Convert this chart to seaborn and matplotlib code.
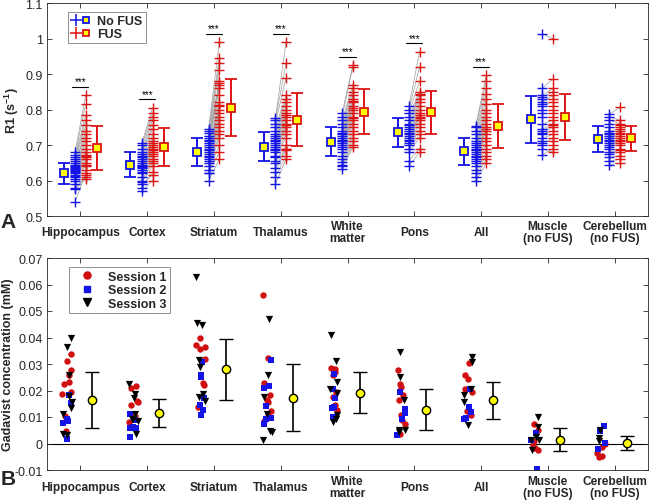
import numpy as np
import pandas as pd
import seaborn as sns
import matplotlib.pyplot as plt
from matplotlib.lines import Line2D
from matplotlib.legend_handler import HandlerTuple

sns.set_style('ticks')
plt.rcParams['font.family'] = ['Liberation Sans', 'DejaVu Sans']
plt.rcParams['mathtext.fontset'] = 'custom'
plt.rcParams['mathtext.rm'] = 'Liberation Sans'
plt.rcParams['mathtext.bf'] = 'Liberation Sans:bold'

BLUE = '#1414e6'
RED = '#dc1414'
DARK = '#262626'

regions = ['Hippocampus', 'Cortex', 'Striatum', 'Thalamus', 'White\nmatter',
           'Pons', 'All', 'Muscle\n(no FUS)', 'Cerebellum\n(no FUS)']

# ---- Panel A: R1 per animal (paired No FUS / FUS) ----
hip_nofus = [0.54, 0.575, 0.578, 0.59, 0.60, 0.605, 0.61, 0.612, 0.615, 0.62, 0.625, 0.628,
             0.63, 0.632, 0.635, 0.638, 0.64, 0.645, 0.65, 0.655, 0.66, 0.665, 0.672, 0.68]
hip_fus = [0.62, 0.605, 0.61, 0.615, 0.63, 0.64, 0.645, 0.665, 0.65, 0.66, 0.67, 0.672,
           0.68, 0.69, 0.70, 0.71, 0.72, 0.74, 0.73, 0.755, 0.77, 0.785, 0.815, 0.84]
ctx_nofus = [0.57, 0.58, 0.59, 0.595, 0.60, 0.61, 0.62, 0.625, 0.63, 0.635, 0.638, 0.64,
             0.642, 0.645, 0.65, 0.655, 0.66, 0.665, 0.67, 0.675, 0.68, 0.69, 0.70, 0.705]
ctx_fus = [0.60, 0.625, 0.615, 0.64, 0.65, 0.655, 0.66, 0.668, 0.675, 0.68, 0.685, 0.69,
           0.695, 0.70, 0.705, 0.72, 0.71, 0.73, 0.745, 0.755, 0.77, 0.78, 0.79, 0.805]
str_nofus = [0.60, 0.62, 0.622, 0.63, 0.64, 0.65, 0.655, 0.66, 0.665, 0.67, 0.675, 0.68,
             0.685, 0.69, 0.695, 0.70, 0.705, 0.71, 0.715, 0.72, 0.725, 0.735, 0.74, 0.745]
str_fus = [0.66, 0.68, 0.70, 0.72, 0.73, 0.74, 0.75, 0.76, 0.77, 0.78, 0.79, 0.80,
           0.81, 0.812, 0.82, 0.84, 0.86, 0.87, 0.875, 0.88, 0.91, 0.93, 0.945, 0.99]
tha_nofus = [0.59, 0.61, 0.625, 0.635, 0.65, 0.655, 0.665, 0.67, 0.68, 0.685, 0.69, 0.695,
             0.70, 0.705, 0.71, 0.715, 0.72, 0.725, 0.73, 0.74, 0.75, 0.76, 0.77, 0.775]
tha_fus = [0.66, 0.67, 0.685, 0.69, 0.69, 0.70, 0.72, 0.73, 0.74, 0.75, 0.755, 0.76,
           0.77, 0.78, 0.785, 0.79, 0.80, 0.81, 0.82, 0.83, 0.84, 0.89, 0.93, 0.99]
wm_nofus = [0.632, 0.64, 0.645, 0.652, 0.66, 0.67, 0.68, 0.69, 0.695, 0.70, 0.705, 0.71,
            0.712, 0.715, 0.72, 0.725, 0.73, 0.735, 0.74, 0.75, 0.76, 0.77, 0.78, 0.79]
wm_fus = [0.694, 0.70, 0.71, 0.72, 0.73, 0.74, 0.75, 0.76, 0.77, 0.775, 0.78, 0.79,
          0.80, 0.805, 0.81, 0.82, 0.825, 0.83, 0.84, 0.85, 0.86, 0.87, 0.92, 0.925]
pons_nofus = [0.64, 0.655, 0.68, 0.69, 0.70, 0.705, 0.71, 0.715, 0.72, 0.725, 0.73,
              0.735, 0.74, 0.745, 0.75, 0.755, 0.76, 0.77, 0.78, 0.79, 0.80, 0.81]
pons_fus = [0.68, 0.69, 0.72, 0.73, 0.74, 0.75, 0.76, 0.77, 0.775, 0.78, 0.785,
            0.79, 0.80, 0.81, 0.82, 0.83, 0.84, 0.845, 0.85, 0.88, 0.92, 0.963]
all_nofus = [0.598, 0.61, 0.62, 0.63, 0.64, 0.65, 0.655, 0.66, 0.665, 0.67, 0.675, 0.68,
             0.685, 0.69, 0.695, 0.70, 0.705, 0.71, 0.72, 0.73, 0.74, 0.75, 0.754]
all_fus = [0.649, 0.66, 0.67, 0.68, 0.69, 0.70, 0.71, 0.72, 0.73, 0.74, 0.745, 0.75,
           0.76, 0.77, 0.78, 0.79, 0.80, 0.815, 0.83, 0.845, 0.86, 0.88, 0.897]
mus_nofus = [0.673, 0.69, 0.70, 0.705, 0.71, 0.72, 0.73, 0.735, 0.74, 0.745, 0.76,
             0.78, 0.79, 0.80, 0.81, 0.815, 0.82, 0.83, 0.835, 0.84, 0.86, 1.013]
mus_fus = [0.69, 0.679, 0.70, 0.72, 0.71, 0.73, 0.74, 0.75, 0.755, 0.76, 0.77,
           0.78, 0.79, 0.80, 0.81, 0.82, 0.84, 0.83, 0.85, 0.86, 0.886, 0.999]
cer_nofus = [0.645, 0.655, 0.665, 0.675, 0.68, 0.69, 0.695, 0.70, 0.705, 0.71, 0.715,
             0.72, 0.725, 0.73, 0.735, 0.74, 0.75, 0.76, 0.77, 0.78, 0.787]
cer_fus = [0.649, 0.66, 0.67, 0.68, 0.685, 0.69, 0.70, 0.705, 0.71, 0.715, 0.72,
           0.725, 0.73, 0.735, 0.74, 0.745, 0.75, 0.755, 0.76, 0.77, 0.806]

r1_mean_nofus = [0.620, 0.645, 0.681, 0.695, 0.709, 0.736, 0.682, 0.773, 0.717]
r1_sd_nofus = [0.030, 0.034, 0.039, 0.041, 0.041, 0.041, 0.037, 0.066, 0.036]
r1_mean_fus = [0.692, 0.694, 0.805, 0.771, 0.794, 0.792, 0.753, 0.779, 0.719]
r1_sd_fus = [0.062, 0.054, 0.080, 0.075, 0.064, 0.060, 0.062, 0.064, 0.035]
sig_groups = [0, 1, 2, 3, 4, 5, 6]

# ---- Panel B: Gadavist concentration (mM) by session ----
hip_s1 = [0.0338, 0.0312, 0.0276, 0.0258, 0.0232, 0.0224, 0.0195, 0.0188, 0.0103, 0.0046]
hip_s2 = [0.0182, 0.0151, 0.0094, 0.0084, 0.0079, 0.0016]
hip_s3 = [0.0398, 0.0363, 0.0260, 0.0178, 0.0157, 0.0134, 0.0113, 0.0034, 0.0031]
ctx_s1 = [0.0217, 0.0210, 0.0160, 0.0155, 0.0145, 0.0103, 0.0082]
ctx_s2 = [0.0113, 0.0088, 0.0063, 0.0060, 0.0057, 0.0024]
ctx_s3 = [0.0224, 0.0185, 0.0170, 0.0113, 0.0094, 0.0092, 0.0084, 0.0036]
str_s1 = [0.0400, 0.0370, 0.0363, 0.0358, 0.0317, 0.0229, 0.0220, 0.0137]
str_s2 = [0.0308, 0.0260, 0.0251, 0.0170, 0.0147, 0.0126, 0.0107]
str_s3 = [0.0628, 0.0456, 0.0449, 0.0314, 0.0289, 0.0188, 0.0176, 0.0160]
tha_s1 = [0.0562, 0.0324, 0.0230, 0.0182, 0.0163, 0.0155, 0.0122, 0.0111, 0.0085]
tha_s2 = [0.0314, 0.0216, 0.0210, 0.0142, 0.0098, 0.0092, 0.0073]
tha_s3 = [0.0471, 0.0260, 0.0176, 0.0113, 0.0046, 0.0044, 0.0015]
wm_s1 = [0.0285, 0.0280, 0.0276, 0.0268, 0.0258, 0.0195, 0.0176, 0.0144, 0.0126]
wm_s2 = [0.0264, 0.0207, 0.0170, 0.0138, 0.0134, 0.0100]
wm_s3 = [0.0408, 0.0313, 0.0232, 0.0204, 0.0192, 0.0107, 0.0094, 0.0082]
pons_s1 = [0.0276, 0.0226, 0.0214, 0.0182, 0.0163, 0.0107, 0.0088, 0.0073, 0.0035]
pons_s2 = [0.0195, 0.0129, 0.0116, 0.0094, 0.0031]
pons_s3 = [0.0346, 0.0251, 0.0163, 0.0050, 0.0044, 0.0050]
all_s1 = [0.0302, 0.0260, 0.0245, 0.0207, 0.0195, 0.0123, 0.0107]
all_s2 = [0.0207, 0.0138, 0.0119, 0.0097, 0.0092]
all_s3 = [0.0327, 0.0308, 0.0207, 0.0182, 0.0157, 0.0069]
mus_s1 = [0.0075, 0.0050, 0.0009, -0.0009, -0.0016, -0.0025]
mus_s2 = [0.0038, 0.0013, -0.0098]
mus_s3 = [0.0100, 0.0063, 0.0025, 0.0015, 0.0013, -0.0025]
cer_s1 = [0.0000, -0.0013, -0.0034, -0.0046, -0.0050]
cer_s2 = [0.0065, 0.0046, 0.0003, -0.0019]
cer_s3 = [0.0050, 0.0019, 0.0009]

gd_mean = [0.0163, 0.0116, 0.0280, 0.0173, 0.0192, 0.0128, 0.0163, 0.0015, 0.0002]
gd_sd = [0.0105, 0.0052, 0.0116, 0.0126, 0.0076, 0.0078, 0.0070, 0.0042, 0.0026]

r1_nofus = [hip_nofus, ctx_nofus, str_nofus, tha_nofus, wm_nofus, pons_nofus, all_nofus, mus_nofus, cer_nofus]
r1_fus = [hip_fus, ctx_fus, str_fus, tha_fus, wm_fus, pons_fus, all_fus, mus_fus, cer_fus]
sessions = {
    'Session 1': [hip_s1, ctx_s1, str_s1, tha_s1, wm_s1, pons_s1, all_s1, mus_s1, cer_s1],
    'Session 2': [hip_s2, ctx_s2, str_s2, tha_s2, wm_s2, pons_s2, all_s2, mus_s2, cer_s2],
    'Session 3': [hip_s3, ctx_s3, str_s3, tha_s3, wm_s3, pons_s3, all_s3, mus_s3, cer_s3],
}
sess_style = {'Session 1': ('o', '#d01010', 4.6),
              'Session 2': ('s', BLUE, 4.2),
              'Session 3': ('v', 'black', 5.2)}

fig = plt.figure(figsize=(6.5, 5.02), dpi=100)
ax1 = fig.add_axes([47 / 650, 1 - 217 / 502, 601 / 650, 213 / 502])
ax2 = fig.add_axes([47 / 650, 1 - 471 / 502, 601 / 650, 212 / 502])

xpos = np.arange(1, len(regions) + 1)

# Panel A
for i, (b, r) in enumerate(zip(r1_nofus, r1_fus)):
    x = xpos[i]
    for yb, yr in zip(b, r):
        ax1.plot([x - 0.08, x + 0.08], [yb, yr], color='0.62', lw=0.5, zorder=1)
    sns.scatterplot(x=np.full(len(b), x - 0.08), y=b, marker='+', color=BLUE, s=45,
                    linewidth=1.0, ax=ax1, zorder=2, legend=False)
    sns.scatterplot(x=np.full(len(r), x + 0.08), y=r, marker='+', color=RED, s=45,
                    linewidth=1.0, ax=ax1, zorder=2, legend=False)
    ax1.errorbar(x - 0.25, r1_mean_nofus[i], yerr=r1_sd_nofus[i], fmt='s', color=BLUE,
                 mfc='yellow', mec=BLUE, ms=5.5, mew=1.3, capsize=4.5, elinewidth=1.4,
                 capthick=1.4, zorder=3)
    ax1.errorbar(x + 0.25, r1_mean_fus[i], yerr=r1_sd_fus[i], fmt='s', color=RED,
                 mfc='yellow', mec=RED, ms=5.5, mew=1.3, capsize=4.5, elinewidth=1.4,
                 capthick=1.4, zorder=3)

for i in sig_groups:
    x = xpos[i]
    top = max(r1_fus[i]) + 0.024
    ax1.plot([x - 0.12, x + 0.12], [top, top], color='k', lw=0.8)
    ax1.text(x, top + 0.001, '***', ha='center', va='bottom', fontsize=7, color='k')

ax1.set_ylim(0.5, 1.1)
ax1.set_yticks(np.arange(0.5, 1.11, 0.1))
ax1.set_yticklabels(['0.5', '0.6', '0.7', '0.8', '0.9', '1', '1.1'])
ax1.set_ylabel(r'R1 (s$^{\mathbf{-1}}$)', fontweight='bold', fontsize=9, color=DARK)
ax1.yaxis.set_label_coords((21 - 47) / 601, 0.5)

leg_handles = [
    (Line2D([], [], marker='+', color=BLUE, ls='none', ms=8, mew=1.1),
     Line2D([], [], marker='s', mfc='yellow', mec=BLUE, ls='none', ms=5, mew=1.3)),
    (Line2D([], [], marker='+', color=RED, ls='none', ms=8, mew=1.1),
     Line2D([], [], marker='s', mfc='yellow', mec=RED, ls='none', ms=5, mew=1.3)),
]
leg1 = ax1.legend(leg_handles, ['No FUS', 'FUS'],
                  handler_map={tuple: HandlerTuple(ndivide=None, pad=0.0)},
                  loc='upper left', bbox_to_anchor=(0.035, 0.958), borderaxespad=0,
                  frameon=True, fancybox=False, edgecolor='0.5', framealpha=1,
                  prop={'weight': 'bold', 'size': 9}, handlelength=1.6,
                  handletextpad=0.5, borderpad=0.25, labelspacing=0.1)
leg1.get_frame().set_linewidth(0.6)

# Panel B
np.random.seed(4)
ax2.axhline(0, color='k', lw=0.8, zorder=0)
for name, groups in sessions.items():
    rows = []
    for i, vals in enumerate(groups):
        for v in vals:
            rows.append({'x': xpos[i] - 0.2, 'val': v})
    df = pd.DataFrame(rows)
    mk, col, sz = sess_style[name]
    sns.stripplot(data=df, x='x', y='val', native_scale=True, orient='x', jitter=0.07,
                  marker=mk, color=col, size=sz, linewidth=0, ax=ax2, zorder=2,
                  legend=False)

ax2.errorbar(xpos + 0.18, gd_mean, yerr=gd_sd, fmt='o', color='k', mfc='yellow',
             mec='k', ms=6, mew=1.0, capsize=5, elinewidth=1.2, capthick=1.2, zorder=3)

ax2.set_ylim(-0.01, 0.07)
ax2.set_yticks(np.arange(-0.01, 0.0701, 0.01))
ax2.set_yticklabels(['-0.01', '0', '0.01', '0.02', '0.03', '0.04', '0.05', '0.06', '0.07'])
ax2.set_ylabel('Gadavist concentration (mM)', fontweight='bold', fontsize=9, color=DARK)
ax2.yaxis.set_label_coords((14 - 47) / 601, 0.5)
ax2.set_xlabel('')

sess_handles = [Line2D([], [], marker=sess_style[n][0], color=sess_style[n][1], ls='none',
                       ms=sess_style[n][2] + 0.5) for n in sessions]
leg2 = ax2.legend(sess_handles, list(sessions.keys()), loc='upper left',
                  bbox_to_anchor=(0.037, 0.958), borderaxespad=0, frameon=True,
                  fancybox=False, edgecolor='0.5', framealpha=1,
                  prop={'weight': 'bold', 'size': 9}, handlelength=2.2,
                  handletextpad=0.6, borderpad=0.3, labelspacing=0.12)
leg2.get_frame().set_linewidth(0.6)

for ax, pad in ((ax1, 11.5), (ax2, 12.5)):
    ax.set_xlim(0.5, 9.5)
    ax.set_xticks(xpos)
    ax.set_xticklabels(regions, fontweight='bold', fontsize=8.6, va='center',
                       linespacing=1.0, color=DARK)
    ax.tick_params(axis='x', direction='in', top=True, bottom=True, length=3.5,
                   width=0.6, pad=pad, color=DARK)
    ax.tick_params(axis='y', direction='in', left=True, right=True, length=3.5,
                   width=0.6, labelsize=9, pad=3, labelcolor=DARK, color=DARK)
    for sp in ax.spines.values():
        sp.set_visible(True)
        sp.set_linewidth(0.6)
        sp.set_color(DARK)

fig.text(8 / 650, 1 - 222 / 502, 'A', fontsize=15, fontweight='bold', ha='center', va='center')
fig.text(8 / 650, 1 - 480 / 502, 'B', fontsize=15, fontweight='bold', ha='center', va='center')

fig.savefig('out.png', dpi=100)
